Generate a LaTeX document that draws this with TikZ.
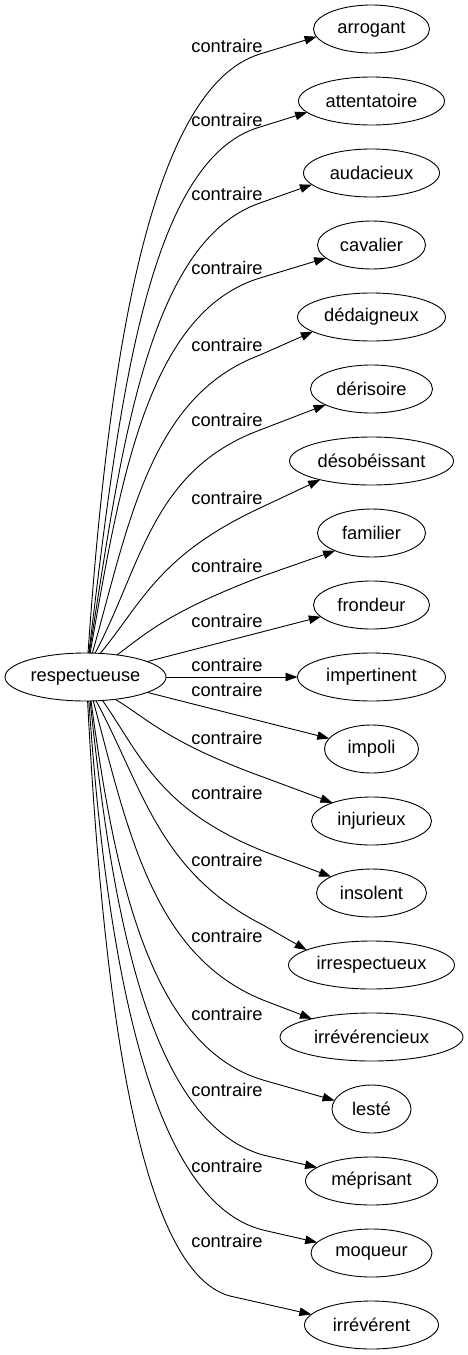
\documentclass[tikz,border=0pt]{standalone}
\usepackage{fontspec}
\setmainfont{Liberation Sans}
\usetikzlibrary{arrows.meta,shapes.geometric}
\begin{document}
\begin{tikzpicture}[x=1pt,y=-1pt,
  word/.style={draw, ellipse, line width=0.9pt, minimum height=48pt, inner sep=0pt, outer sep=0pt, font=\fontsize{18.3}{22}\selectfont},
  lbl/.style={inner sep=0pt, font=\fontsize{18.3}{22}\selectfont},
  edge/.style={line width=0.9pt, -{Triangle[length=12pt,width=8.5pt]}}]
\useasboundingbox (0,0) rectangle (468,1355);
\fill[white] (0,0) rectangle (468,1355);
% nodes
\node[word, minimum width=161pt] (r) at (85.5,677) {respectueuse};
\node[word, minimum width=116pt] (n1) at (371.5,29) {arrogant};
\node[word, minimum width=146pt] (n2) at (371.5,101) {attentatoire};
\node[word, minimum width=136pt] (n3) at (371.5,173) {audacieux};
\node[word, minimum width=108pt] (n4) at (371.5,245) {cavalier};
\node[word, minimum width=148pt] (n5) at (371.5,317) {dédaigneux};
\node[word, minimum width=122pt] (n6) at (371.5,389) {dérisoire};
\node[word, minimum width=164pt] (n7) at (371.5,461) {désobéissant};
\node[word, minimum width=108pt] (n8) at (371.5,533) {familier};
\node[word, minimum width=116pt] (n9) at (371.5,605) {frondeur};
\node[word, minimum width=148pt] (n10) at (371.5,677) {impertinent};
\node[word, minimum width=94pt] (n11) at (371.5,749) {impoli};
\node[word, minimum width=120pt] (n12) at (371.5,821) {injurieux};
\node[word, minimum width=110pt] (n13) at (371.5,893) {insolent};
\node[word, minimum width=166pt] (n14) at (371.5,965) {irrespectueux};
\node[word, minimum width=183pt] (n15) at (371.5,1037) {irrévérencieux};
\node[word, minimum width=79pt] (n16) at (371.5,1109) {lesté};
\node[word, minimum width=132pt] (n17) at (371.5,1181) {méprisant};
\node[word, minimum width=121pt] (n18) at (371.5,1253) {moqueur};
\node[word, minimum width=134pt] (n19) at (371.5,1325) {irrévérent};
% labels
\node[lbl] (l1) at (227,46) {contraire};
\node[lbl] (l2) at (227,120) {contraire};
\node[lbl] (l3) at (227,194) {contraire};
\node[lbl] (l4) at (227,268) {contraire};
\node[lbl] (l5) at (227,345) {contraire};
\node[lbl] (l6) at (227,420) {contraire};
\node[lbl] (l7) at (227,498) {contraire};
\node[lbl] (l8) at (227,566) {contraire};
\node[lbl] (l9) at (227,621) {contraire};
\node[lbl] (l10) at (227,665) {contraire};
\node[lbl] (l11) at (227,690) {contraire};
\node[lbl] (l12) at (227,738) {contraire};
\node[lbl] (l13) at (227,793) {contraire};
\node[lbl] (l14) at (227,860) {contraire};
\node[lbl] (l15) at (227,936) {contraire};
\node[lbl] (l16) at (227,1014) {contraire};
\node[lbl] (l17) at (227,1090) {contraire};
\node[lbl] (l18) at (227,1166) {contraire};
\node[lbl] (l19) at (227,1241) {contraire};
% edges
\draw[edge] (r.84) .. controls (106.8,384) and (144.9,89.2) .. (260,54) -- (n1.188.3);
\draw[edge] (r.82.9) .. controls (117.4,418.1) and (144.7,160.1) .. (260,127) -- (n2.190.8);
\draw[edge] (r.81.7) .. controls (120.7,453) and (146.8,242) .. (260,203) -- (n3.191.5);
\draw[edge] (r.79.4) .. controls (119.3,486.8) and (146.2,312.7) .. (260,278) -- (n4.196);
\draw[edge] (r.74.9) .. controls (128.9,524.2) and (149.8,396.2) .. (260,355) -- (n5.194.5);
\draw[edge] (r.68.3) .. controls (142.1,564.4) and (151.8,470.4) .. (260,430) -- (n6.199.4);
\draw[edge] (r.58.4) .. controls (141.9,603) and (158.5,555.3) .. (260,508) -- (n7.200.8);
\draw[edge] (r.35) .. controls (145.4,634.1) and (166.6,612.8) .. (260,577) -- (n8.206.8);
\draw[edge] (r.14.1) -- (n9.193.4);
\draw[edge] (r.east) -- (n10.west);
\draw[edge] (r.-14.1) -- (n11.166.8);
\draw[edge] (r.-37.1) .. controls (145.3,716.8) and (165.6,741.6) .. (263,777) -- (n12.155.6);
\draw[edge] (r.-54.9) .. controls (141,755.7) and (158.5,808.8) .. (263,851) -- (n13.158.7);
\draw[edge] (r.-66.2) .. controls (143.4,789.2) and (158.8,871.9) .. (263,925) -- (n14.167);
\draw[edge] (r.-72.6) .. controls (127.9,830.4) and (152.7,955.4) .. (263,1000) -- (n15.163.4);
\draw[edge] (r.-77.1) .. controls (113.6,869.5) and (148,1046) .. (263,1080) -- (n16.167.9);
\draw[edge] (r.-79.4) .. controls (111.4,903.6) and (146.7,1121.6) .. (263,1155) -- (n17.166.8);
\draw[edge] (r.-82.9) .. controls (105.1,937.9) and (144.6,1200.5) .. (263,1230) -- (n18.169.7);
\draw[edge] (r.-85.2) .. controls (101.5,967.6) and (133.4,1270.1) .. (230,1296) -- (n19.170.7);
\end{tikzpicture}
\end{document}
